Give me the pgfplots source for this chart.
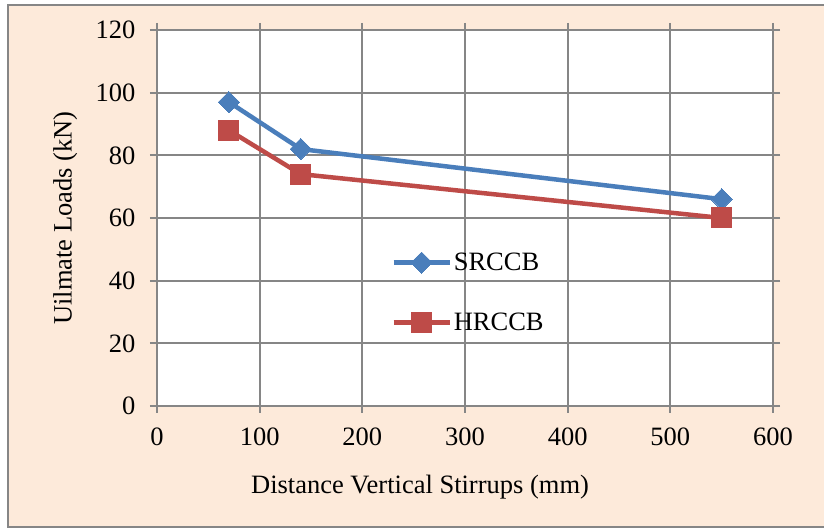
\documentclass[border=0pt]{standalone}
\usepackage{fontspec}
\setmainfont{Liberation Serif}
\usepackage{pgfplots}
\pgfplotsset{compat=1.18}
\definecolor{peach}{HTML}{FDEADA}
\definecolor{gridgray}{HTML}{868686}
\definecolor{sblue}{HTML}{4A7EBB}
\definecolor{hred}{HTML}{BE4B48}
\pgfplotstableread{
x y
70 97
140 82
550 66
}\srccb
\pgfplotstableread{
x y
70 88
140 74
550 60
}\hrccb
\begin{document}
\begin{tikzpicture}
\useasboundingbox (0pt,0pt) rectangle (824pt,529pt);
\filldraw[fill=peach,draw=gridgray,line width=1.5pt] (8pt,2pt) rectangle (840pt,524pt);
\begin{axis}[
  at={(157pt,123pt)}, anchor=south west,
  scale only axis, width=616pt, height=376pt,
  xmin=0, xmax=600, ymin=0, ymax=120,
  xtick={0,100,...,600}, ytick={0,20,...,120},
  axis background/.style={fill=white},
  grid=major,
  major grid style={gridgray,line width=1.8pt},
  axis line style={gridgray,line width=1.8pt},
  tick style={gridgray,line width=1.8pt},
  tick align=outside, major tick length=7pt,
  font=\fontsize{26.5}{31}\selectfont,
  /pgf/number format/assume math mode=true,
  xticklabel style={yshift=-11pt},
  yticklabel style={xshift=-11pt},
  xlabel={Distance Vertical Stirrups (mm)},
  ylabel={Uilmate Loads (kN)},
  xlabel style={at={(axis description cs:0.427,-0.215)},anchor=center},
  ylabel style={at={(axis description cs:-0.149,0.5)},anchor=center},
  legend style={at={(axis cs:228,49.5)},anchor=north west,draw=none,fill=none,
    font=\fontsize{26.5}{31}\selectfont,row sep=37pt,inner sep=0pt,
    nodes={inner sep=2pt}},
  legend cell align=left,
  legend image code/.code={
    \draw[#1,mark=none] (0pt,0pt) -- (56pt,0pt);
    \draw[#1,only marks] plot coordinates {(28pt,0pt)};
  },
]
\addplot[sblue,line width=4.5pt,mark=square*,mark size=7.5pt,mark options={rotate=45,line width=0pt}] table[x=x,y=y]{\srccb};
\addlegendentry{SRCCB}
\addplot[hred,line width=4.5pt,mark=square*,mark size=10pt,mark options={line width=0pt}] table[x=x,y=y]{\hrccb};
\addlegendentry{HRCCB}
\end{axis}
\end{tikzpicture}
\end{document}
